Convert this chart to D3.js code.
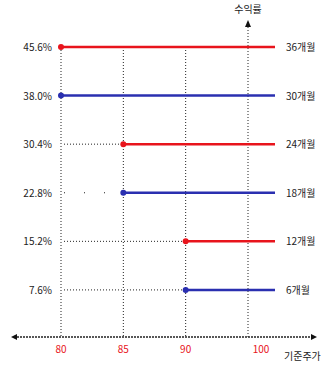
<!DOCTYPE html>
<html><head><meta charset="utf-8">
<script src="https://cdn.jsdelivr.net/npm/d3@7"></script>
<style>body{margin:0;background:#fff}svg{display:block}text{font-family:"Noto Sans CJK KR","DejaVu Sans",sans-serif}</style>
</head><body><svg id="c" width="331" height="369"></svg>
<script>
const prices = ["80", "85", "90", "100"];
const rates = [45.6, 38.0, 30.4, 22.8, 15.2, 7.6];
const periods = ["36개월", "30개월", "24개월", "18개월", "12개월", "6개월"];
const startPrice = ["80", "80", "85", "85", "90", "90"];
const seriesType = ["red", "blue", "red", "blue", "red", "blue"];
const yLabel = "수익률", xLabel = "기준주가";

const palette = {red: "#e8141c", blue: "#2a2fb0"};
const svg = d3.select("#c");
const x = d3.scalePoint().domain(prices).range([61, 248]);
const y = d3.scaleLinear().domain([0, 45.6]).range([338.5, 47]);
const lineEnd = 275;
const axisY = 337;

// vertical dotted grid
prices.forEach(p => {
  svg.append("line").attr("x1", x(p)).attr("x2", x(p))
    .attr("y1", p === "100" ? 24 : y(45.6)).attr("y2", axisY)
    .attr("stroke", "#222").attr("stroke-width", 1).attr("stroke-dasharray", "1,2");
});
// y axis arrow
svg.append("path").attr("d", `M${x("100")-3},27 L${x("100")+3},27 L${x("100")},20 Z`).attr("fill", "#111");
svg.append("text").attr("x", x("100")).attr("y", 13).attr("text-anchor", "middle")
  .attr("font-size", 10).attr("fill", "#222").text(yLabel);

// x axis
svg.append("line").attr("x1", 14).attr("x2", 314).attr("y1", axisY).attr("y2", axisY)
  .attr("stroke", "#222").attr("stroke-width", 1.5).attr("stroke-dasharray", "2,1");
svg.append("path").attr("d", `M11,${axisY} L17,${axisY-3} L17,${axisY+3} Z`).attr("fill", "#111");
svg.append("path").attr("d", `M317,${axisY} L311,${axisY-3} L311,${axisY+3} Z`).attr("fill", "#111");
prices.forEach(p => {
  svg.append("text").attr("x", x(p) + (p === "100" ? 13 : 0)).attr("y", 353).attr("text-anchor", "middle")
    .attr("font-size", 10).attr("fill", "#e8141c").text(p);
});
svg.append("text").attr("x", 284).attr("y", 360).attr("font-size", 10).attr("fill", "#222").text(xLabel);

// rows
rates.forEach((r, i) => {
  const yy = y(r);
  const xs = x(startPrice[i]);
  const col = palette[seriesType[i]];
  if (xs > x("80")) {
    svg.append("line").attr("x1", x("80") + 3).attr("x2", xs).attr("y1", yy).attr("y2", yy)
      .attr("stroke", "#222").attr("stroke-width", 1)
      .attr("stroke-dasharray", i === 3 ? "1,19" : "1,2");
  }
  svg.append("line").attr("x1", xs).attr("x2", lineEnd).attr("y1", yy).attr("y2", yy)
    .attr("stroke", col).attr("stroke-width", 2.5);
  svg.append("circle").attr("cx", xs).attr("cy", yy).attr("r", 3).attr("fill", col);
  svg.append("text").attr("x", 52).attr("y", yy + 4).attr("text-anchor", "end")
    .attr("font-size", 10).attr("fill", "#222").text(r.toFixed(1) + "%");
  svg.append("text").attr("x", 286).attr("y", yy + 4)
    .attr("font-size", 10).attr("fill", "#222").text(periods[i]);
});
</script></body></html>
